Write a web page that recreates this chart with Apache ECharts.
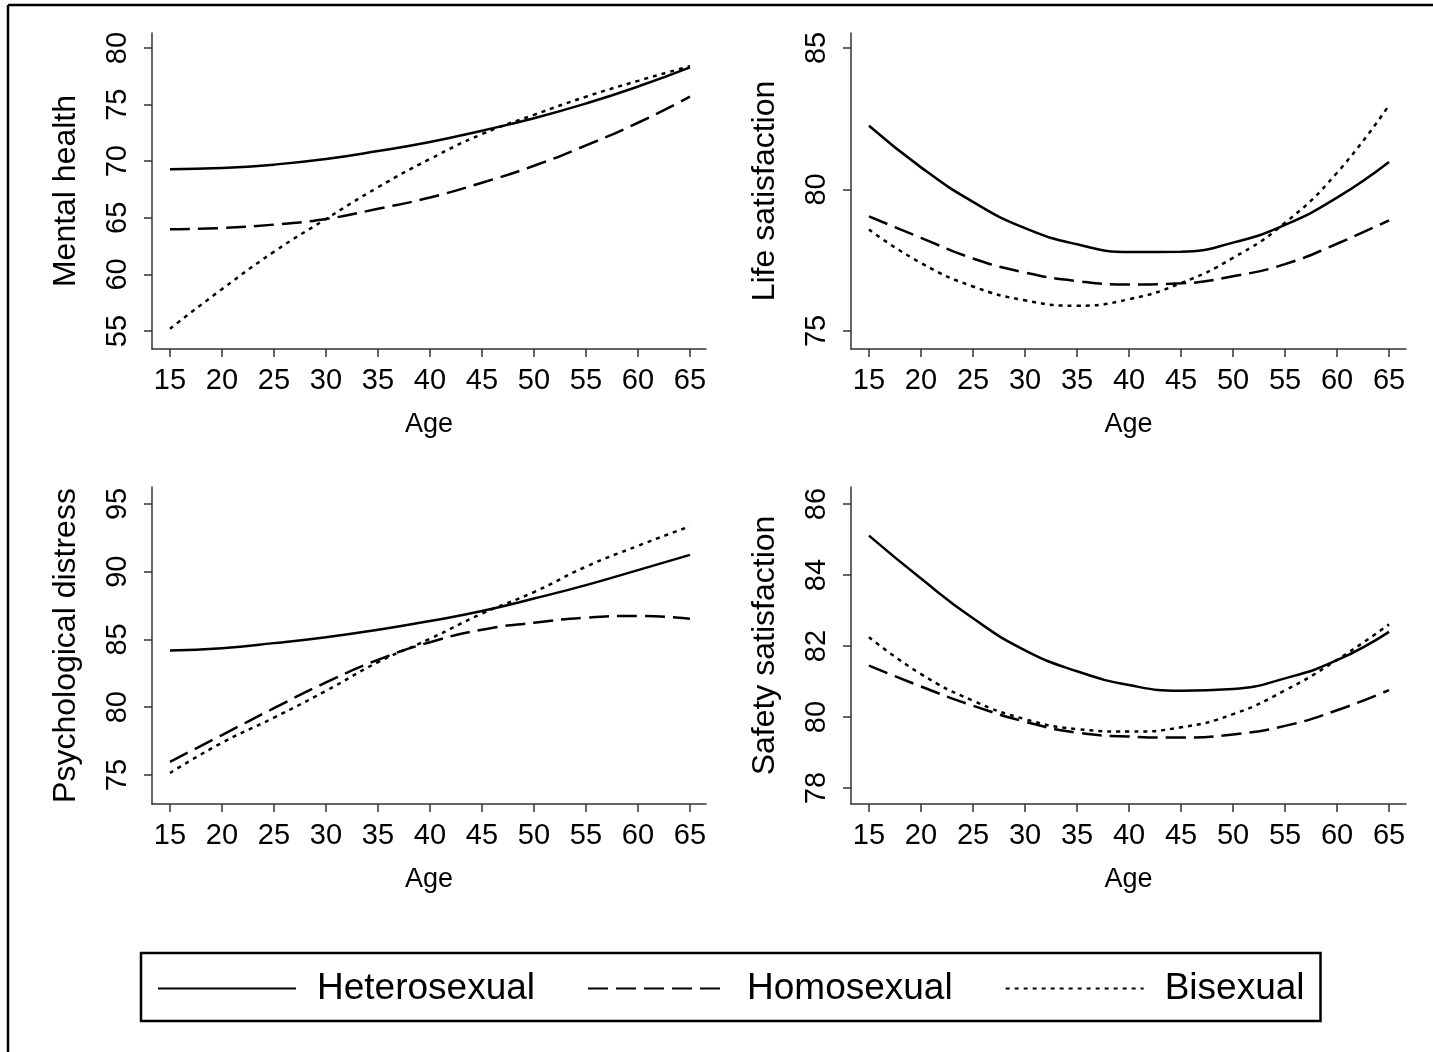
<!DOCTYPE html>
<html>
<head>
<meta charset="utf-8">
<script src="https://cdn.jsdelivr.net/npm/echarts@6/dist/echarts.min.js"></script>
<style>
  html, body { margin: 0; padding: 0; background: #fff; }
  #chart { width: 1433px; height: 1052px; }
</style>
</head>
<body>
<div id="chart"></div>
<script>
const ages = [15, 20, 25, 30, 35, 40, 45, 50, 55, 60, 65]
const ageTicks = [15, 20, 25, 30, 35, 40, 45, 50, 55, 60, 65]

// Mental health
const mentalHetero = [69.3, 69.4, 69.7, 70.2, 70.9, 71.7, 72.7, 73.8, 75.1, 76.6, 78.3]
const mentalHomo = [64.0, 64.1, 64.4, 64.9, 65.8, 66.8, 68.1, 69.6, 71.4, 73.4, 75.7]
const mentalBi = [55.2, 58.7, 62.0, 64.9, 67.7, 70.2, 72.4, 74.1, 75.7, 77.1, 78.4]
const mentalTicks = [55, 60, 65, 70, 75, 80]

// Life satisfaction
const lifeHetero = [82.25, 80.78, 79.56, 78.63, 78.06, 77.79, 77.8, 78.12, 78.75, 79.71, 80.97]
const lifeHomo = [79.05, 78.29, 77.56, 77.06, 76.76, 76.64, 76.68, 76.93, 77.36, 78.08, 78.91]
const lifeBi = [78.58, 77.4, 76.57, 76.08, 75.89, 76.12, 76.69, 77.58, 78.82, 80.59, 82.98]
const lifeTicks = [75, 80, 85]

// Psychological distress
const distressHetero = [84.18, 84.36, 84.73, 85.17, 85.72, 86.36, 87.1, 88.02, 89.01, 90.12, 91.24]
const distressHomo = [75.97, 77.95, 79.93, 81.83, 83.5, 84.8, 85.72, 86.24, 86.61, 86.73, 86.53]
const distressBi = [75.15, 77.38, 79.23, 81.21, 83.32, 85.05, 86.91, 88.5, 90.37, 91.91, 93.35]
const distressTicks = [75, 80, 85, 90, 95]

// Safety satisfaction
const safetyHetero = [85.11, 83.9, 82.78, 81.88, 81.29, 80.9, 80.74, 80.79, 81.09, 81.6, 82.4]
const safetyHomo = [81.45, 80.86, 80.32, 79.87, 79.56, 79.45, 79.42, 79.51, 79.75, 80.19, 80.76]
const safetyBi = [82.25, 81.21, 80.46, 79.94, 79.66, 79.59, 79.71, 80.08, 80.75, 81.61, 82.61]
const safetyTicks = [78, 80, 82, 84, 86]

const groupNames = ['Heterosexual', 'Homosexual', 'Bisexual']

const FONT = '"Liberation Sans", Arial, sans-serif'
const AXIS_COLOR = '#333'

const panels = [
  { title: 'Mental health', ticks: mentalTicks, min: 53.41, max: 81.33, data: [mentalHetero, mentalHomo, mentalBi],
    grid: { left: 152, top: 33, width: 554, height: 316 } },
  { title: 'Life satisfaction', ticks: lifeTicks, min: 74.36, max: 85.53, data: [lifeHetero, lifeHomo, lifeBi],
    grid: { left: 851, top: 33, width: 555, height: 316 } },
  { title: 'Psychological distress', ticks: distressTicks, min: 72.86, max: 96.25, data: [distressHetero, distressHomo, distressBi],
    grid: { left: 152, top: 487, width: 554, height: 317 } },
  { title: 'Safety satisfaction', ticks: safetyTicks, min: 77.55, max: 86.48, data: [safetyHetero, safetyHomo, safetyBi],
    grid: { left: 851, top: 487, width: 555, height: 317 } }
]

const lineTypes = ['solid', [20, 8], [4, 5]]

const chart = echarts.init(document.getElementById('chart'))

const grids = []
const xAxes = []
const yAxes = []
const series = []

panels.forEach((p, i) => {
  grids.push(p.grid)
  xAxes.push({
    type: 'value',
    gridIndex: i,
    min: 13.27,
    max: i % 2 === 0 ? 66.54 : 66.63,
    name: 'Age',
    nameLocation: 'middle',
    nameGap: 62,
    nameTextStyle: { fontFamily: FONT, fontSize: 27, color: '#000' },
    splitLine: { show: false },
    axisLine: { lineStyle: { color: AXIS_COLOR, width: 1.5 } },
    axisTick: { length: 8, lineStyle: { color: AXIS_COLOR, width: 1.5 }, customValues: ageTicks },
    axisLabel: { customValues: ageTicks, margin: 17, fontFamily: FONT, fontSize: 29, color: '#000' }
  })
  yAxes.push({
    type: 'value',
    gridIndex: i,
    min: p.min,
    max: p.max,
    name: p.title,
    nameLocation: 'middle',
    nameGap: 70,
    nameTextStyle: { fontFamily: FONT, fontSize: 32, color: '#000' },
    splitLine: { show: false },
    axisLine: { lineStyle: { color: AXIS_COLOR, width: 1.5 } },
    axisTick: { length: 8, lineStyle: { color: AXIS_COLOR, width: 1.5 }, customValues: p.ticks },
    axisLabel: { customValues: p.ticks, rotate: 90, margin: 20, fontFamily: FONT, fontSize: 29, color: '#000' }
  })
  p.data.forEach((vals, k) => {
    series.push({
      name: groupNames[k],
      type: 'line',
      xAxisIndex: i,
      yAxisIndex: i,
      smooth: 0.5,
      symbol: 'none',
      silent: true,
      itemStyle: { color: '#000' },
      lineStyle: { color: '#000', width: 2.5, type: lineTypes[k] },
      data: ages.map((a, j) => [a, vals[j]])
    })
  })
})

chart.setOption({
  backgroundColor: '#fff',
  animation: false,
  legend: {
    data: groupNames,
    left: 141,
    top: 953,
    itemWidth: 138,
    itemHeight: 14,
    itemGap: 52,
    padding: [17, 16, 14, 16],
    borderColor: '#000',
    borderWidth: 2.5,
    selectedMode: false,
    itemStyle: { opacity: 0 },
    textStyle: { fontFamily: FONT, fontSize: 37, color: '#000', padding: [0, 0, 0, 16] }
  },
  graphic: [
    { type: 'line', shape: { x1: 8, y1: 5, x2: 1433, y2: 5 }, style: { stroke: '#000', lineWidth: 2.5 } },
    { type: 'line', shape: { x1: 8, y1: 5, x2: 8, y2: 1052 }, style: { stroke: '#000', lineWidth: 2.5 } }
  ],
  grid: grids,
  xAxis: xAxes,
  yAxis: yAxes,
  series: series
})
</script>
</body>
</html>
